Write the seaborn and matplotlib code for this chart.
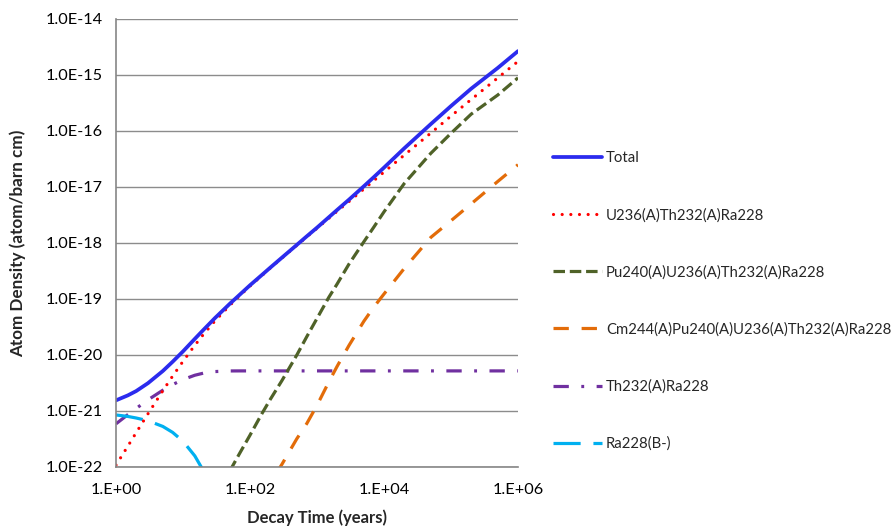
import numpy as np
import pandas as pd
import matplotlib
matplotlib.use("Agg")
import matplotlib.pyplot as plt
import seaborn as sns

# ---- data ----
t_all = [1, 1.5, 2, 3, 5, 7, 10, 15, 20, 30, 50, 70, 100, 150, 200, 300, 500, 700,
         1e3, 1.5e3, 2e3, 3e3, 5e3, 7e3, 1e4, 2e4, 5e4, 1e5, 2e5, 5e5, 1e6]

total = [1.55e-21, 1.90e-21, 2.27e-21, 3.14e-21, 5.18e-21, 7.58e-21, 1.16e-20, 1.94e-20,
         2.78e-20, 4.57e-20, 8.23e-20, 1.19e-19, 1.76e-19, 2.68e-19, 3.62e-19, 5.49e-19,
         9.26e-19, 1.31e-18, 1.88e-18, 2.88e-18, 3.90e-18, 5.94e-18, 1.03e-17, 1.49e-17,
         2.22e-17, 4.89e-17, 1.33e-16, 2.79e-16, 5.70e-16, 1.34e-15, 2.67e-15]

u236 = [1.08e-22, 2.35e-22, 4.1e-22, 8.9e-22, 2.3e-21, 4.2e-21, 7.7e-21, 1.49e-20,
        2.3e-20, 4.06e-20, 7.7e-20, 1.14e-19, 1.70e-19, 2.62e-19, 3.55e-19, 5.4e-19,
        9.1e-19, 1.28e-18, 1.83e-18, 2.76e-18, 3.7e-18, 5.5e-18, 9.2e-18, 1.29e-17,
        1.85e-17, 3.7e-17, 9.2e-17, 1.85e-16, 3.65e-16, 8.9e-16, 1.75e-15]

th232 = [5.9e-22, 8.6e-22, 1.11e-21, 1.58e-21, 2.35e-21, 2.96e-21, 3.64e-21, 4.35e-21,
         4.73e-21, 5.06e-21, 5.19e-21, 5.2e-21, 5.2e-21, 5.2e-21, 5.2e-21, 5.2e-21,
         5.2e-21, 5.2e-21, 5.2e-21, 5.2e-21, 5.2e-21, 5.2e-21, 5.2e-21, 5.2e-21,
         5.2e-21, 5.2e-21, 5.2e-21, 5.2e-21, 5.2e-21, 5.2e-21, 5.2e-21]

t_ra = [1, 1.5, 2, 3, 5, 7, 10, 15, 20, 30]
ra228 = [8.5e-22, 8.0e-22, 7.5e-22, 6.7e-22, 5.3e-22, 4.15e-22, 2.88e-22, 1.58e-22, 8.7e-23, 2.6e-23]

t_pu = [50, 70, 100, 150, 200, 300, 500, 700, 1e3, 1.5e3, 2e3, 3e3, 5e3, 7e3,
        1e4, 2e4, 5e4, 1e5, 2e5, 5e5, 1e6]
pu240 = [8.5e-23, 1.75e-22, 3.7e-22, 8.9e-22, 1.6e-21, 3.5e-21, 1.0e-20, 2.1e-20,
         4.5e-20, 1.07e-19, 1.86e-19, 4.2e-19, 1.05e-18, 1.9e-18, 3.6e-18, 1.15e-17,
         4.0e-17, 9.1e-17, 2.0e-16, 4.4e-16, 8.9e-16]

t_cm = [250, 300, 500, 700, 1e3, 1.5e3, 2e3, 3e3, 5e3, 7e3, 1e4, 2e4, 5e4, 1e5, 2e5, 5e5, 1e6]
cm244 = [7.9e-23, 1.12e-22, 3.2e-22, 5.9e-22, 1.26e-21, 3.3e-21, 6.3e-21, 1.48e-20,
         4.0e-20, 7.1e-20, 1.23e-19, 3.5e-19, 1.26e-18, 2.5e-18, 5.0e-18, 1.26e-17, 2.5e-17]

labels = ["Total", "U236(A)Th232(A)Ra228", "Pu240(A)U236(A)Th232(A)Ra228",
          "Cm244(A)Pu240(A)U236(A)Th232(A)Ra228", "Th232(A)Ra228", "Ra228(B-)"]
x_ticks = [1, 1e2, 1e4, 1e6]
x_ticklabels = ["1.E+00", "1.E+02", "1.E+04", "1.E+06"]
y_ticks = [1e-22, 1e-21, 1e-20, 1e-19, 1e-18, 1e-17, 1e-16, 1e-15, 1e-14]
y_ticklabels = ["1.0E-22", "1.0E-21", "1.0E-20", "1.0E-19", "1.0E-18", "1.0E-17",
                "1.0E-16", "1.0E-15", "1.0E-14"]

# ---- style ----
sns.set_style("white")
plt.rcParams['font.family'] = ['Lato', 'DejaVu Sans']

fig = plt.figure(figsize=(8.92, 5.28), dpi=100)
ax = fig.add_axes([116/892, 1-467/528, (518-116)/892, (467-19)/528])

lw = 2.3
series = [
    (t_all, total, labels[0], "#2B2BEE", dict(linestyle="-", linewidth=2.7)),
    (t_all, u236, labels[1], "#FF0000", dict(dashes=(0.01, 2.7), dash_capstyle="round", linewidth=lw)),
    (t_pu, pu240, labels[2], "#4F6228", dict(dashes=(3.6, 1.5), linewidth=lw)),
    (t_cm, cm244, labels[3], "#E36C09", dict(dashes=(4.8, 4.0), linewidth=lw)),
    (t_all, th232, labels[4], "#7030A0", dict(dashes=(4.8, 3.9, 0.9, 3.9), linewidth=lw)),
    (t_ra, ra228, labels[5], "#00B0F0", dict(dashes=(8.5, 4.0), linewidth=lw)),
]
order = [4, 5, 3, 2, 1, 0]
lines = {}
for i in order:
    x, y, lab, col, st = series[i]
    df = pd.DataFrame({"t": x, "v": y})
    sns.lineplot(data=df, x="t", y="v", ax=ax, color=col,
                 estimator=None, sort=False, label=lab, **st)
    lines[i] = ax.get_lines()[-1]

ax.set_xscale("log")
ax.set_yscale("log")
ax.set_xlim(1, 1e6)
ax.set_ylim(1e-22, 1e-14)

ax.set_xticks(x_ticks)
ax.set_xticklabels(x_ticklabels)
ax.set_yticks(y_ticks)
ax.set_yticklabels(y_ticklabels)
ax.minorticks_off()
ax.tick_params(axis="both", direction="out", length=4.5, width=1, color="#868686",
               labelsize=11.7, labelcolor="black", pad=5)
ax.tick_params(axis="x", pad=7)

ax.yaxis.grid(True, color="#8c8c8c", linewidth=1)
ax.xaxis.grid(False)
ax.set_axisbelow(True)
for s in ["top", "right"]:
    ax.spines[s].set_visible(False)
for s in ["left", "bottom"]:
    ax.spines[s].set_color("#868686")
    ax.spines[s].set_linewidth(1.2)

ax.set_xlabel("Decay Time (years)", fontsize=12, fontweight="bold", labelpad=9)
ax.set_ylabel("Atom Density (atom/barn cm)", fontsize=12.3, fontweight="bold", labelpad=14)

ax.get_legend().remove()
handles = [lines[i] for i in range(6)]
fig.legend(handles, labels, loc="center left", bbox_to_anchor=(553/892, 1-301/528),
           frameon=False, fontsize=10.7, handlelength=3.3, handletextpad=0.25,
           labelspacing=2.88, borderpad=0, borderaxespad=0)

fig.savefig("out.png", dpi=100)
